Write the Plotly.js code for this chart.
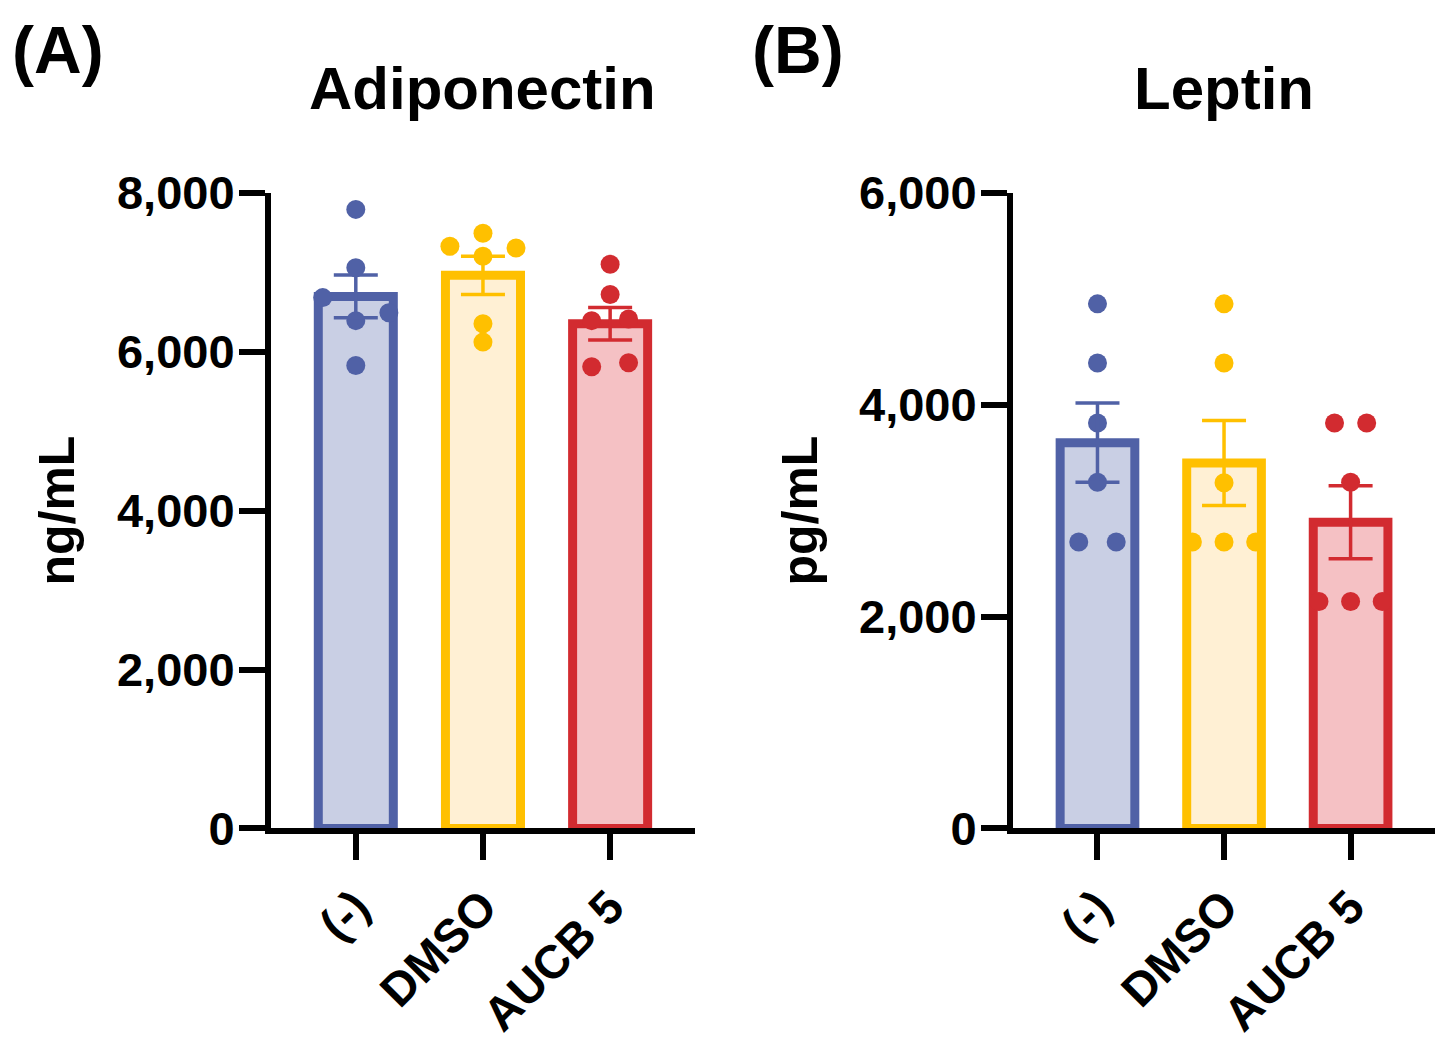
<!DOCTYPE html>
<html>
<head>
<meta charset="utf-8">
<script src="https://cdn.plot.ly/plotly-3.0.1.min.js"></script>
<style>
  html, body { margin: 0; padding: 0; background: #fff; }
  #chart { width: 1446px; height: 1045px; }
</style>
</head>
<body>
<div id="chart"></div>
<script>
// groups on the x axis
const groups = ['(-)', 'DMSO', 'AUCB 5'];

// (A) adiponectin, ng/mL
const adipoMean = [6695, 6960, 6350];
const adipoSem = [270, 240, 205];
const adipoDots = [
  [7790, 7055, 6680, 6490, 6390, 5825],
  [7325, 7490, 7305, 7200, 6350, 6120],
  [7100, 6720, 6390, 6410, 5810, 5860]
];
const adipoJitter = [
  [0, 0, -0.26, 0.26, 0, 0],
  [-0.26, 0, 0.26, 0, 0, 0],
  [0, 0, -0.145, 0.145, -0.145, 0.145]
];

// (B) leptin, pg/mL
const leptinMean = [3641, 3449, 2890];
const leptinSem = [374, 402, 345];
const leptinDots = [
  [4951, 4393, 3827, 3268, 2703, 2703],
  [4951, 4393, 3262, 2703, 2703, 2703],
  [3827, 3827, 3268, 2142, 2142, 2142]
];
const leptinJitter = [
  [0, 0, 0, 0, -0.148, 0.148],
  [0, 0, 0, -0.25, 0, 0.25],
  [-0.127, 0.127, 0, -0.25, 0, 0.25]
];

const adipoTicks = [0, 2000, 4000, 6000, 8000];
const leptinTicks = [0, 2000, 4000, 6000];

const edge = ['#5061a6', '#ffc000', '#d22b30'];
const fill = ['#c9cfe4', '#fff0d4', '#f5c1c4'];

const FONT = 'Arial, "Liberation Sans", sans-serif';
const pos = groups.map((g, i) => i);

function panel(mean, sem, dots, jitter, xa, ya) {
  const out = [{
    type: 'bar',
    x: pos,
    y: mean,
    width: 0.59,
    xaxis: xa, yaxis: ya,
    marker: { color: fill, line: { color: edge, width: 9 } },
    hoverinfo: 'skip'
  }];
  groups.forEach((g, i) => {
    out.push({
      type: 'scatter',
      mode: 'markers',
      x: dots[i].map((v, k) => i + jitter[i][k]),
      y: dots[i],
      xaxis: xa, yaxis: ya,
      marker: { color: edge[i], size: 19 },
      hoverinfo: 'skip'
    });
    out.push({
      type: 'scatter',
      mode: 'markers',
      x: [i],
      y: [mean[i]],
      xaxis: xa, yaxis: ya,
      marker: { color: edge[i], size: 1, opacity: 0 },
      error_y: { type: 'data', array: [sem[i]], visible: true, color: edge[i], thickness: 3.5, width: 22 },
      hoverinfo: 'skip'
    });
  });
  return out;
}

const data = panel(adipoMean, adipoSem, adipoDots, adipoJitter, 'x', 'y')
  .concat(panel(leptinMean, leptinSem, leptinDots, leptinJitter, 'x2', 'y2'));

const xBase = {
  range: [-0.667, 2.667],
  tickvals: pos,
  ticktext: groups,
  tickangle: -45,
  ticks: 'outside', ticklen: 26, tickwidth: 6, tickcolor: '#000',
  showline: true, linewidth: 6, linecolor: '#000',
  showgrid: false, zeroline: false, fixedrange: true,
  tickfont: { family: FONT, size: 47, color: '#000', weight: 'bold' },
  ticklabelstandoff: 0
};
const yBase = {
  domain: [0.2072, 0.8156],
  ticks: 'outside', ticklen: 26, tickwidth: 6, tickcolor: '#000',
  showline: true, linewidth: 6, linecolor: '#000',
  showgrid: false, zeroline: false, fixedrange: true,
  tickformat: ',d',
  tickfont: { family: FONT, size: 47, color: '#000', weight: 'bold' },
  ticklabelstandoff: -5
};

const layout = {
  width: 1446,
  height: 1045,
  margin: { l: 0, r: 0, t: 0, b: 0 },
  paper_bgcolor: '#fff',
  plot_bgcolor: '#fff',
  showlegend: false,
  xaxis: Object.assign({}, xBase, { domain: [0.1874, 0.4806], anchor: 'y' }),
  xaxis2: Object.assign({}, xBase, { domain: [0.7006, 0.9924], anchor: 'y2' }),
  yaxis: Object.assign({}, yBase, {
    anchor: 'x', range: [0, 8000], tickvals: adipoTicks,
    title: { text: 'ng/mL', standoff: 28, font: { family: FONT, size: 50, color: '#000', weight: 'bold' } }
  }),
  yaxis2: Object.assign({}, yBase, {
    anchor: 'x2', range: [0, 6000], tickvals: leptinTicks,
    title: { text: 'pg/mL', standoff: 28, font: { family: FONT, size: 50, color: '#000', weight: 'bold' } }
  }),
  annotations: [
    { text: '(A)', xref: 'paper', yref: 'paper', x: 10 / 1446, y: 0.952, xanchor: 'left', yanchor: 'middle',
      showarrow: false, font: { family: FONT, size: 66, color: '#000', weight: 'bold' } },
    { text: '(B)', xref: 'paper', yref: 'paper', x: 750 / 1446, y: 0.952, xanchor: 'left', yanchor: 'middle',
      showarrow: false, font: { family: FONT, size: 66, color: '#000', weight: 'bold' } },
    { text: 'Adiponectin', xref: 'x domain', yref: 'paper', x: 0.5, y: 0.915, xanchor: 'center', yanchor: 'middle',
      showarrow: false, font: { family: FONT, size: 60, color: '#000', weight: 'bold' } },
    { text: 'Leptin', xref: 'x2 domain', yref: 'paper', x: 0.5, y: 0.915, xanchor: 'center', yanchor: 'middle',
      showarrow: false, font: { family: FONT, size: 60, color: '#000', weight: 'bold' } }
  ]
};

Plotly.newPlot('chart', data, layout, { staticPlot: true });
</script>
</body>
</html>
